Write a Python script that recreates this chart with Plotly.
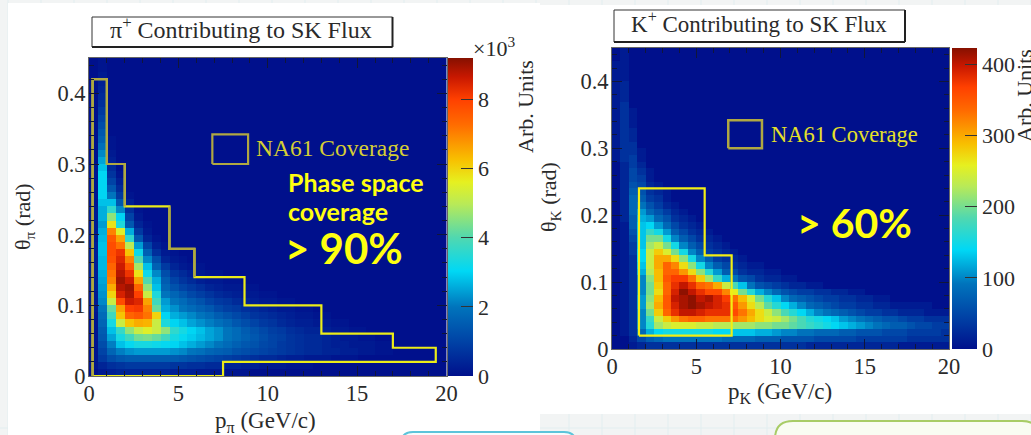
import numpy as np
import plotly.graph_objects as go

W, H = 1031, 435

# Bin layout (40 momentum bins of 0.5 GeV/c, 45 angle bins of 0.01 rad)
N_COLS = 40
N_ROWS = 45
P_BIN = 0.5
THETA_BIN = 0.01

# Pion histogram, tenths of 10^3, one list per angle bin from theta=0 up
pi_rows = [
    [0,2,3,4,4,4,4,4,4,3,3,3,2,2,2,1,1,1],
    [1,4,6,7,8,8,8,8,8,7,7,6,6,5,5,4,4,3,3,2,2,2,1,1,1],
    [1,8,12,14,15,15,15,15,15,15,14,13,12,11,10,9,8,7,6,5,5,4,3,3,2,2,2,1,1,1],
    [1,10,17,21,23,24,24,24,24,23,22,20,19,17,16,15,13,12,11,10,9,8,7,6,5,5,4,4,3,3,2,2,1,1],
    [1,12,21,28,31,33,33,32,31,30,28,26,24,22,20,18,16,14,13,11,10,8,7,6,5,5,4,3,3,2,2,2,1,1],
    [1,14,25,33,38,43,44,42,38,33,31,29,27,25,23,20,18,16,14,12,10,9,7,6,5,5,4,3,2,2,1,1],
    [1,15,28,37,46,52,55,52,46,36,33,30,28,25,23,20,18,15,13,11,9,8,6,5,4,4,3,2,2,1,1],
    [1,17,33,52,62,65,64,52,34,30,28,25,23,21,19,17,14,12,10,8,7,5,4,3,3,2,2,1,1],
    [1,18,38,62,74,76,72,60,30,26,24,22,20,18,15,13,11,9,7,6,5,4,3,2,2,1,1],
    [2,20,42,66,80,81,70,42,26,23,20,18,16,14,11,9,8,6,5,4,3,2,2,1,1],
    [2,22,52,78,86,84,66,38,24,20,18,15,13,10,8,7,5,4,3,2,2,1,1],
    [2,23,60,85,89,80,52,34,20,17,14,11,9,7,5,4,3,2,2,1,1],
    [3,24,65,88,90,74,46,28,17,13,10,8,6,4,3,2,2,1,1],
    [3,25,70,90,86,66,40,26,15,10,7,5,3,2,2,1,1],
    [3,26,72,88,82,58,32,22,12,7,5,3,2,1,1],
    [3,27,74,86,76,48,28,16,8,4,2,1,1],
    [3,27,77,84,70,40,22,12,4,2,1],
    [3,28,78,82,62,32,16,6,2,1],
    [3,28,78,72,50,24,10,3,1],
    [2,27,76,66,36,14,4,1],
    [2,26,70,55,26,8,2],
    [2,24,58,34,14,4,1],
    [2,26,46,30,10,2],
    [2,26,36,22,6,1],
    [1,28,28,14,3],
    [1,30,20,8,1],
    [1,30,14,5],
    [1,30,10,3],
    [1,30,7,1],
    [1,28,5],
    [0,25,3],
    [0,22,2],
    [0,19,1],
    [0,16,1],
    [0,14],
    [0,12],
    [0,10],
    [0,8],
    [0,6],
    [0,5],
    [0,4],
    [0,3],
    [0,2],
    [0,1],
    [0,1],
]

# Kaon histogram, in tens of arbitrary units
k_rows = [
    [0,0,1,2,3,3,3,3,3,3,3,3,3,3,3,3,3,3,3,3,3,3,3,2,2,2,2,2,2,2,2,2,2,2,1,1,1,1,1,1],
    [0,0,2,5,7,8,9,9,9,9,9,9,9,8,8,8,8,7,7,7,6,6,6,6,5,5,5,5,5,4,4,4,4,4,4,3,3,3,3,3],
    [0,1,3,8,12,14,15,15,15,15,15,15,14,14,13,13,13,12,12,11,10,10,9,9,8,8,8,7,7,6,6,6,5,5,5,4,4,4,4,3],
    [0,1,3,10,16,22,24,25,25,25,24,24,23,23,22,22,22,21,21,20,20,19,18,17,16,15,14,13,12,11,10,9,8,7,7,6,5,5,4,4],
    [0,1,3,10,17,24,28,31,33,34,34,33,33,33,33,31,29,27,25,24,22,20,18,16,15,14,13,11,10,9,8,7,6,6,5,4,4,3,3,3],
    [0,1,3,10,20,28,34,38,40,40,39,38,38,38,36,33,30,27,24,21,18,16,14,12,10,9,8,7,6,5,4,4,3,3,2,2,2,1,1,1],
    [0,1,3,11,22,30,35,39,41,42,41,40,39,38,35,31,27,23,19,16,14,12,10,8,7,6,5,4,4,3,3,2,2,1,1,1,1,1],
    [0,1,3,11,21,29,35,40,41,42,40,41,39,37,33,29,25,20,16,13,10,8,7,6,5,4,4,3,3,2,2,1,1],
    [0,1,3,10,20,27,34,39,42,40,38,36,36,32,26,20,16,12,10,8,6,5,4,4,3,3,2,2,1,1],
    [0,1,3,10,20,28,34,38,40,38,34,33,30,24,18,13,9,6,5,4,3,2,2,1,1],
    [0,1,3,10,21,29,35,37,37,33,28,22,17,12,9,6,5,3,2,2,1,1],
    [0,1,3,12,23,29,34,34,31,27,21,16,11,7,5,3,2,2,1,1],
    [0,1,3,13,24,30,34,32,27,21,15,10,7,5,3,2,1,1],
    [0,1,3,14,24,30,30,27,21,15,10,7,4,3,2,1],
    [0,1,4,14,24,28,25,20,15,10,7,4,3,2,1],
    [0,1,4,13,22,24,20,15,10,7,5,3,2,1],
    [0,1,5,13,20,20,15,10,7,5,3,2,1],
    [0,1,6,13,17,15,11,7,5,3,2,1],
    [0,1,7,13,14,11,8,5,3,2,1],
    [0,2,7,12,11,8,6,3,2,1],
    [0,2,8,11,8,6,4,2,1],
    [0,2,8,9,6,4,2,1],
    [0,2,8,7,4,3,1],
    [0,2,7,6,3,2,1],
    [0,2,6,5,2,1],
    [0,2,5,4,1],
    [0,2,5,3,1],
    [0,2,4,2],
    [1,3,4,1],
    [1,3,3,1],
    [1,3,3],
    [1,3,2],
    [1,3,2],
    [1,3,1],
    [1,3,1],
    [1,3,1],
    [1,3],
    [1,2],
    [1,2],
    [1,2],
    [1,1],
    [1,1],
    [1,1],
    [0,1],
    [0,1],
]

# NA61 coverage outlines
pi_cov_p = [0.2, 0.2, 1.0, 1.0, 2.0, 2.0, 4.5, 4.5, 5.9, 5.9, 8.7, 8.7, 13.0, 13.0, 17.0, 17.0, 19.4, 19.4, 7.5, 7.5, 0.2]
pi_cov_t = [0.0, 0.42, 0.42, 0.30, 0.30, 0.24, 0.24, 0.18, 0.18, 0.14, 0.14, 0.10, 0.10, 0.06, 0.06, 0.04, 0.04, 0.02, 0.02, 0.0, 0.0]
# the olive, duller portion of the pion outline
pi_olive_p = [0.2, 0.2, 1.0, 1.0, 2.0, 2.0, None, 4.5, 4.5, 5.9, 5.9]
pi_olive_t = [0.0, 0.42, 0.42, 0.30, 0.30, 0.24, None, 0.24, 0.18, 0.18, 0.14]
k_cov_p = [1.6, 1.6, 5.5, 5.5, 7.1, 7.1, 1.6]
k_cov_t = [0.02, 0.24, 0.24, 0.14, 0.14, 0.02, 0.02]
key_box_p = [6.9, 8.9, 8.9, 6.9, 6.9]
key_box_t = [0.30, 0.30, 0.342, 0.342, 0.30]

# Axis ticks
p_ticks = [0, 5, 10, 15, 20]
theta_ticks = [0, 0.1, 0.2, 0.3, 0.4]
theta_labels = ["0", "0.1", "0.2", "0.3", "0.4"]
pi_cbar_ticks = [0, 2, 4, 6, 8]
k_cbar_ticks = [0, 100, 200, 300, 400]

# Text
pi_title = "π<sup>+</sup> Contributing to SK Flux"
k_title = "K<sup>+</sup> Contributing to SK Flux"
coverage_label = "NA61 Coverage"
z_label = "Arb. Units"
pi_xlabel = "p<sub>π</sub> (GeV/c)"
pi_ylabel = "θ<sub>π</sub> (rad)"
k_xlabel = "p<sub>K</sub> (GeV/c)"
k_ylabel = "θ<sub>K</sub> (rad)"

SERIF = "Liberation Serif"
TXT = "#2a2a2a"
YEL = "#ffff10"
OLIVE = "#b0a842"

scale = [
    [0.00, "#00108c"], [0.10, "#003fa4"], [0.217, "#0074bc"], [0.33, "#00d8f5"],
    [0.435, "#50d8b0"], [0.54, "#b8ea58"], [0.61, "#e6f020"], [0.68, "#f8c000"],
    [0.79, "#ff6c00"], [0.87, "#ff4000"], [0.94, "#c81800"], [1.00, "#861000"],
]


def grid(rows):
    out = np.zeros((N_ROWS, N_COLS))
    for j, r in enumerate(rows):
        out[j, :len(r)] = r
    return out


pi_z = grid(pi_rows) * 0.1
k_z = grid(k_rows) * 10


def px(x):
    return x / W


def py(y):
    return 1 - y / H


fig = go.Figure()


def panel(z, zmax, xa, ya, left, right, top, bottom, cb_left, ticks, cb_w):
    fig.add_trace(go.Heatmap(
        z=z, x0=P_BIN / 2, dx=P_BIN, y0=THETA_BIN / 2, dy=THETA_BIN,
        xaxis=xa, yaxis=ya, zmin=0, zmax=zmax, colorscale=scale,
        hoverinfo="skip",
        colorbar=dict(
            x=px(cb_left), xanchor="left", xpad=0, ypad=0,
            y=py(bottom), yanchor="bottom", len=(bottom - top) / H,
            thickness=cb_w, thicknessmode="pixels", outlinewidth=0,
            tickvals=ticks, ticks="inside", ticklen=12, tickcolor="#333",
            tickwidth=1, tickfont=dict(family=SERIF, size=22, color=TXT),
        ),
    ))
    name = lambda s, a: s + "axis" + a[1:]
    fig.layout[name("x", xa)] = dict(
        domain=[px(left), px(right)], range=[0, 20], anchor=ya,
        tickvals=p_ticks, ticks="inside", ticklen=10, tickcolor="#10163a",
        mirror="ticks", showline=True, linecolor="#666", linewidth=1,
        showgrid=False, zeroline=False, ticklabelstandoff=-3,
        minor=dict(dtick=1, ticks="inside", ticklen=5, tickcolor="#10163a", showgrid=False),
        tickfont=dict(family=SERIF, size=22.5, color=TXT),
    )
    fig.layout[name("y", ya)] = dict(
        domain=[py(bottom), py(top)], range=[0, 0.45], anchor=xa,
        tickvals=theta_ticks, ticktext=theta_labels, ticks="inside", ticklen=10,
        tickcolor="#10163a", mirror="ticks", showline=True, linecolor="#666",
        linewidth=1, showgrid=False, zeroline=False, ticklabelstandoff=-2,
        minor=dict(dtick=0.02, ticks="inside", ticklen=5, tickcolor="#10163a", showgrid=False),
        tickfont=dict(family=SERIF, size=22.5, color=TXT),
    )


panel(pi_z, 9.2, "x", "y", 89, 446.5, 58, 376, 447.7, pi_cbar_ticks, 25)
panel(k_z, 423, "x2", "y2", 612, 949, 48, 349, 951.5, k_cbar_ticks, 25)


def outline(xs, ys, color, width, xa="x", ya="y"):
    fig.add_trace(go.Scatter(
        x=xs, y=ys, mode="lines", xaxis=xa, yaxis=ya, showlegend=False,
        hoverinfo="skip", line=dict(color=color, width=width),
    ))


outline(pi_cov_p, pi_cov_t, "#ecec18", 2.2)
outline(pi_olive_p, pi_olive_t, OLIVE, 2.2)
outline(key_box_p, key_box_t, OLIVE, 2.2)
outline(k_cov_p, k_cov_t, "#f2ee14", 2.2, "x2", "y2")
outline(key_box_p, key_box_t, OLIVE, 2.5, "x2", "y2")

# Page furniture behind the figures
BG = "#f2f4f4"
GRIDC = "#e2eef0"
shapes = []
for gx in range(-8, W, 33):
    shapes.append(dict(type="line", xref="paper", yref="paper", x0=px(gx + 16), x1=px(gx + 16), y0=0, y1=1,
                       line=dict(color=GRIDC, width=1), layer="below"))
for gy in (428,):
    shapes.append(dict(type="line", xref="paper", yref="paper", x0=0, x1=1, y0=py(gy), y1=py(gy),
                       line=dict(color=GRIDC, width=1), layer="below"))


def rect(x0, y0, x1, y1, fill, line=None, w=0, layer="below"):
    return dict(type="rect", xref="paper", yref="paper", x0=px(x0), x1=px(x1), y0=py(y1), y1=py(y0),
                fillcolor=fill, line=dict(color=line or fill, width=w), layer=layer)


def rounded(x0, y0, x1, y1, r, fill, line):
    p = (f"M {px(x0)} {py(y1)} L {px(x0)} {py(y0 + r)} Q {px(x0)} {py(y0)} {px(x0 + r)} {py(y0)} "
         f"L {px(x1 - r)} {py(y0)} Q {px(x1)} {py(y0)} {px(x1)} {py(y0 + r)} L {px(x1)} {py(y1)}")
    return dict(type="path", xref="paper", yref="paper", path=p, fillcolor=fill,
                line=dict(color=line, width=2), layer="below")


shapes += [
    rect(8, 3, 540, 436, "#ffffff"),
    rect(540, 5, 1032, 414, "#ffffff"),
    rounded(401, 432, 576, 445, 12, "#f6fcfd", "#5cc4da"),
    rounded(775, 421, 1040, 445, 18, "#f9fcf2", "#a8cc66"),
]

# Title boxes with their heavier lower and right edges
for (x0, y0, x1, y1) in [(92, 17, 392.5, 47), (614, 10, 905, 42)]:
    shapes.append(rect(x0, y0, x1, y1, "#ffffff", "#333", 1))
    shapes.append(dict(type="line", xref="paper", yref="paper", x0=px(x0), x1=px(x1), y0=py(y1), y1=py(y1),
                       line=dict(color="#222", width=2), layer="below"))
    shapes.append(dict(type="line", xref="paper", yref="paper", x0=px(x1), x1=px(x1), y0=py(y0), y1=py(y1),
                       line=dict(color="#222", width=2), layer="below"))
fig.update_layout(shapes=shapes)


def note(text, x, y, size, color=TXT, family=SERIF, angle=0, anchor="center"):
    fig.add_annotation(
        text=text, x=px(x), y=py(y), xref="paper", yref="paper", showarrow=False,
        xanchor=anchor, yanchor="middle", textangle=angle,
        font=dict(family=family, size=size, color=color),
    )


note(pi_title, 241, 28, 24)
note(k_title, 759, 22, 23)
note(coverage_label, 254, 148, 23.5, "#d6ce34", anchor="left")
note(coverage_label, 769, 134, 22.5, "#e6e028", anchor="left")
note("×10<sup>3</sup>", 494, 47, 22)
note(z_label, 525, 107, 22, angle=-90)
note(z_label, 1024, 96, 22, angle=-90)
note(pi_xlabel, 265, 422, 23)
note(pi_ylabel, 24, 217, 22, angle=-90)
note(k_xlabel, 780, 393, 23)
note(k_ylabel, 550, 197, 22, angle=-90)
note("<b>Phase space</b>", 286, 182, 25, YEL, "Lato", anchor="left")
note("<b>coverage</b>", 286, 211, 25, YEL, "Lato", anchor="left")
note("<b>&gt; 90%</b>", 283, 248, 42, YEL, "Lato", anchor="left")
note("<b>&gt; 60%</b>", 795, 222, 41, YEL, "Lato", anchor="left")

fig.update_layout(
    width=W, height=H, margin=dict(l=0, r=0, t=0, b=0, autoexpand=False),
    paper_bgcolor=BG, plot_bgcolor="#00108c", showlegend=False,
)

fig.write_html("out.html", config=dict(displayModeBar=False),
               post_script="document.body.style.margin='0';document.body.style.overflow='hidden';")
